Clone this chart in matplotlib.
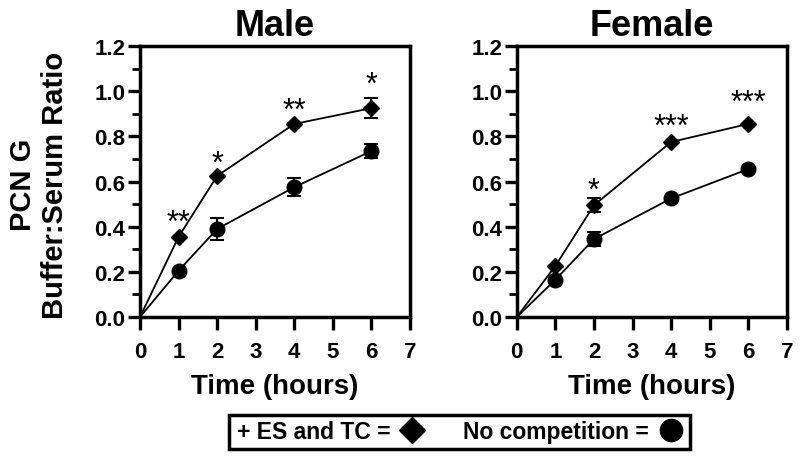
import matplotlib
matplotlib.use("Agg")
import matplotlib.pyplot as plt
from matplotlib.lines import Line2D
from matplotlib.patches import Rectangle
from matplotlib.ticker import MultipleLocator, FormatStrFormatter

plt.rcParams['font.family'] = ['Liberation Sans', 'DejaVu Sans']
plt.rcParams['font.weight'] = 'bold'

times = [0, 1, 2, 4, 6]
male_es = [0, 0.355, 0.625, 0.855, 0.925]
male_es_err = [0, 0, 0, 0, 0.045]
male_nc = [0, 0.205, 0.39, 0.575, 0.735]
male_nc_err = [0, 0, 0.05, 0.04, 0.033]
male_stars = ["**", "*", "**", "*"]
male_star_y = [0.46, 0.72, 0.955, 1.07]

female_es = [0, 0.226, 0.495, 0.775, 0.855]
female_es_err = [0, 0, 0.03, 0, 0]
female_nc = [0, 0.165, 0.345, 0.525, 0.655]
female_nc_err = [0, 0, 0.03, 0, 0]
female_stars = ["", "*", "***", "***"]
female_star_y = [0, 0.60, 0.885, 0.99]

star_x = [1, 2, 4, 6]

fig = plt.figure(figsize=(8, 4.6), dpi=100)
ax1 = fig.add_axes([0.175, 0.3087, 0.3375, 0.589])
ax2 = fig.add_axes([0.646, 0.3087, 0.3375, 0.589])

STAR_FS = 22

def draw(ax, es, ese, nc, nce, stars, sy, title):
    ax.plot(times, es, color='black', lw=1.3, marker='D', ms=8, markevery=[1, 2, 3, 4], zorder=3)
    ax.plot(times, nc, color='black', lw=1.3, marker='o', ms=10.5, markevery=[1, 2, 3, 4], zorder=3)
    for x, y, e in zip(times, es, ese):
        if e > 0:
            ax.errorbar([x], [y], yerr=[e], fmt='none', ecolor='black', elinewidth=1.5, capsize=5, capthick=1.5)
    for x, y, e in zip(times, nc, nce):
        if e > 0:
            ax.errorbar([x], [y], yerr=[e], fmt='none', ecolor='black', elinewidth=1.5, capsize=5, capthick=1.5)
    for x, s, y in zip(star_x, stars, sy):
        if s:
            ax.annotate(s, (x, y), xytext=(0, -0.58 * STAR_FS), textcoords='offset points',
                        ha='center', va='baseline', fontsize=STAR_FS, fontweight='normal')
    ax.set_xlim(0, 7)
    ax.set_ylim(0, 1.2)
    ax.xaxis.set_major_locator(MultipleLocator(1))
    ax.yaxis.set_major_locator(MultipleLocator(0.2))
    ax.yaxis.set_minor_locator(MultipleLocator(0.1))
    ax.yaxis.set_major_formatter(FormatStrFormatter('%.1f'))
    for sp in ax.spines.values():
        sp.set_linewidth(2.5)
    ax.tick_params(axis='both', which='major', direction='out', length=9, width=2.4, labelsize=16)
    ax.tick_params(axis='x', which='major', pad=8.5)
    ax.tick_params(axis='y', which='major', pad=1.5)
    ax.tick_params(axis='y', which='minor', direction='out', length=6, width=2.0)
    for lab in ax.get_xticklabels() + ax.get_yticklabels():
        lab.set_fontweight('bold')
    ax.set_title(title, fontsize=26, fontweight='bold', pad=8)
    ax.set_xlabel('Time (hours)', fontsize=20, fontweight='bold', labelpad=8)

draw(ax1, male_es, male_es_err, male_nc, male_nc_err, male_stars, male_star_y, 'Male')
draw(ax2, female_es, female_es_err, female_nc, female_nc_err, female_stars, female_star_y, 'Female')
ax1.set_ylabel('PCN G\nBuffer:Serum Ratio', fontsize=21, fontweight='bold', linespacing=1.2)
ax1.yaxis.set_label_coords(-0.262, 0.49)

# legend box drawn as a figure rectangle
fig.patches.append(Rectangle((229 / 800, 1 - 450 / 460), 461 / 800, 34 / 460,
                             transform=fig.transFigure, fill=False, lw=2.5, edgecolor='black'))
handles = [Line2D([], [], color='black', marker='D', ls='none', ms=13),
           Line2D([], [], color='black', marker='o', ls='none', ms=16)]
labels = ['+ ES and TC =', 'No competition =']
leg = fig.legend(handles, labels, loc='center', bbox_to_anchor=(459.5 / 800, 1 - 433 / 460), ncol=2,
                 markerfirst=False, frameon=False,
                 prop={'weight': 'bold', 'size': 16.5}, handletextpad=0.45, columnspacing=1.7,
                 borderpad=0.2, handlelength=1.0)

fig.savefig('out.png', dpi=100)
